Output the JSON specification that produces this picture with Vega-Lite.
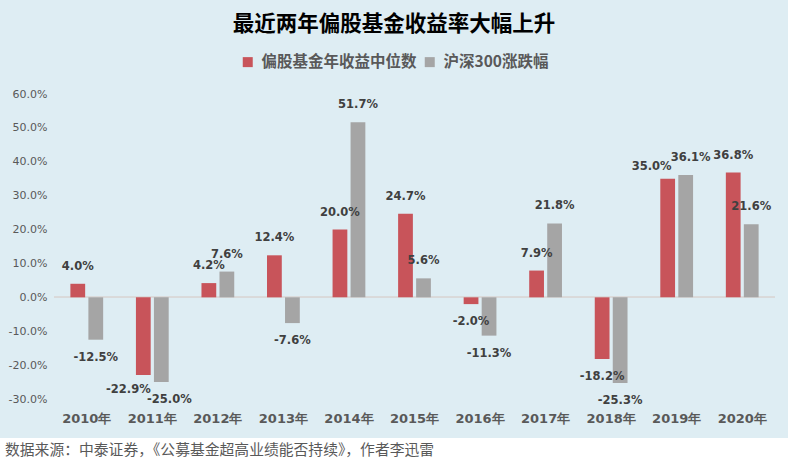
{
  "$schema": "https://vega.github.io/schema/vega-lite/v6.json",
  "background": "#deedf3",
  "padding": {"top": 13, "left": 0, "right": 0, "bottom": 0},
  "title": {"text": "最近两年偏股基金收益率大幅上升", "fontSize": 21.5, "font": "Noto Sans CJK SC", "fontWeight": "bold", "color": "#000000", "anchor": "middle", "offset": 19},
  "spacing": 0,
  "config": {
    "view": {"stroke": null},
    "locale": {"number": {"decimal": ".", "thousands": ",", "grouping": [3], "currency": ["$", ""], "minus": "-"}}
  },
  "vconcat": [
    {
      "width": 775,
      "height": 305,
      "data": {"values": [
        {"year": "2010年", "series": "偏股基金年收益中位数", "value": 0.040},
        {"year": "2011年", "series": "偏股基金年收益中位数", "value": -0.229},
        {"year": "2012年", "series": "偏股基金年收益中位数", "value": 0.042},
        {"year": "2013年", "series": "偏股基金年收益中位数", "value": 0.124},
        {"year": "2014年", "series": "偏股基金年收益中位数", "value": 0.200},
        {"year": "2015年", "series": "偏股基金年收益中位数", "value": 0.247},
        {"year": "2016年", "series": "偏股基金年收益中位数", "value": -0.020},
        {"year": "2017年", "series": "偏股基金年收益中位数", "value": 0.079},
        {"year": "2018年", "series": "偏股基金年收益中位数", "value": -0.182},
        {"year": "2019年", "series": "偏股基金年收益中位数", "value": 0.350},
        {"year": "2020年", "series": "偏股基金年收益中位数", "value": 0.368},
        {"year": "2010年", "series": "沪深300涨跌幅", "value": -0.125},
        {"year": "2011年", "series": "沪深300涨跌幅", "value": -0.250},
        {"year": "2012年", "series": "沪深300涨跌幅", "value": 0.076},
        {"year": "2013年", "series": "沪深300涨跌幅", "value": -0.076},
        {"year": "2014年", "series": "沪深300涨跌幅", "value": 0.517},
        {"year": "2015年", "series": "沪深300涨跌幅", "value": 0.056},
        {"year": "2016年", "series": "沪深300涨跌幅", "value": -0.113},
        {"year": "2017年", "series": "沪深300涨跌幅", "value": 0.218},
        {"year": "2018年", "series": "沪深300涨跌幅", "value": -0.253},
        {"year": "2019年", "series": "沪深300涨跌幅", "value": 0.361},
        {"year": "2020年", "series": "沪深300涨跌幅", "value": 0.216}
      ]},
      "encoding": {
        "x": {
          "field": "year", "type": "nominal",
          "scale": {"range": [54, 775], "paddingInner": 0.5, "paddingOuter": 0.25},
          "axis": {"title": null, "labelAngle": 0, "ticks": false, "domain": false, "labelFont": "DejaVu Sans", "labelFontSize": 13, "labelFontWeight": "bold", "labelColor": "#595959", "labelPadding": 13, "minExtent": 39}
        },
        "xOffset": {
          "field": "series", "type": "nominal",
          "sort": ["偏股基金年收益中位数", "沪深300涨跌幅"],
          "scale": {"paddingInner": 0.18}
        },
        "y": {
          "field": "value", "type": "quantitative",
          "scale": {"domain": [-0.3, 0.6], "nice": false},
          "axis": {"title": null, "offset": -54, "values": [-0.3, -0.2, -0.1, 0, 0.1, 0.2, 0.3, 0.4, 0.5, 0.6], "format": ".1%", "grid": false, "ticks": false, "domain": false, "labelFont": "DejaVu Sans", "labelFontSize": 11, "labelColor": "#595959", "labelPadding": 7}
        },
        "text": {"field": "value", "type": "quantitative", "format": ".1%"}
      },
      "layer": [
        {
          "mark": {"type": "rule", "color": "#d9d9d9", "strokeWidth": 1.5},
          "encoding": {
            "y": {"datum": 0, "type": "quantitative"},
            "x": {"datum": "2010年", "type": "nominal", "bandPosition": -0.5},
            "x2": {"datum": "2020年", "bandPosition": 1.5},
            "xOffset": null, "text": null
          }
        },
        {
          "mark": {"type": "bar"},
          "encoding": {
            "text": null,
            "color": {
              "field": "series", "type": "nominal",
              "scale": {"domain": ["偏股基金年收益中位数", "沪深300涨跌幅"], "range": ["#c8545a", "#a5a5a5"]},
              "legend": {"title": null, "orient": "none", "legendX": 240, "legendY": -40, "direction": "horizontal", "symbolType": "square", "symbolSize": 100, "symbolStrokeWidth": 0, "labelFont": "Noto Sans CJK SC", "labelFontSize": 15.5, "labelFontWeight": "bold", "labelColor": "#595959", "columnPadding": 5, "labelOffset": 6}
            }
          }
        },
        {
          "transform": [{"filter": "datum.value >= 0 && datum.year != '2019年'"}],
          "mark": {"type": "text", "baseline": "middle", "align": "center", "dy": -17, "font": "DejaVu Sans", "fontSize": 11.5, "fontWeight": "bold", "color": "#404040"}
        },
        {
          "transform": [{"filter": "datum.value < 0 && datum.year != '2011年'"}],
          "mark": {"type": "text", "baseline": "middle", "align": "center", "dy": 18, "font": "DejaVu Sans", "fontSize": 11.5, "fontWeight": "bold", "color": "#404040"}
        },
        {
          "transform": [{"filter": "datum.year == '2019年' && datum.series == '偏股基金年收益中位数'"}],
          "mark": {"type": "text", "baseline": "middle", "align": "center", "dx": -16, "dy": -12, "font": "DejaVu Sans", "fontSize": 11.5, "fontWeight": "bold", "color": "#404040"}
        },
        {
          "transform": [{"filter": "datum.year == '2019年' && datum.series == '沪深300涨跌幅'"}],
          "mark": {"type": "text", "baseline": "middle", "align": "center", "dx": 5, "dy": -17, "font": "DejaVu Sans", "fontSize": 11.5, "fontWeight": "bold", "color": "#404040"}
        },
        {
          "transform": [{"filter": "datum.year == '2011年' && datum.series == '偏股基金年收益中位数'"}],
          "mark": {"type": "text", "baseline": "middle", "align": "center", "dx": -15, "dy": 15, "font": "DejaVu Sans", "fontSize": 11.5, "fontWeight": "bold", "color": "#404040"}
        },
        {
          "transform": [{"filter": "datum.year == '2011年' && datum.series == '沪深300涨跌幅'"}],
          "mark": {"type": "text", "baseline": "middle", "align": "center", "dx": 8, "dy": 18, "font": "DejaVu Sans", "fontSize": 11.5, "fontWeight": "bold", "color": "#404040"}
        }
      ]
    },
    {
      "width": 788,
      "height": 25,
      "view": {"fill": "#ffffff", "stroke": null},
      "data": {"values": [{"note": "数据来源：中泰证券，《公募基金超高业绩能否持续》，作者李迅雷"}]},
      "mark": {"type": "text", "align": "left", "baseline": "middle", "dx": 5, "font": "Noto Sans CJK SC", "fontSize": 14.8, "color": "#595959"},
      "encoding": {
        "text": {"field": "note", "type": "nominal"},
        "x": {"datum": 0, "type": "quantitative", "scale": {"domain": [0, 1]}, "axis": null}
      }
    }
  ]
}
